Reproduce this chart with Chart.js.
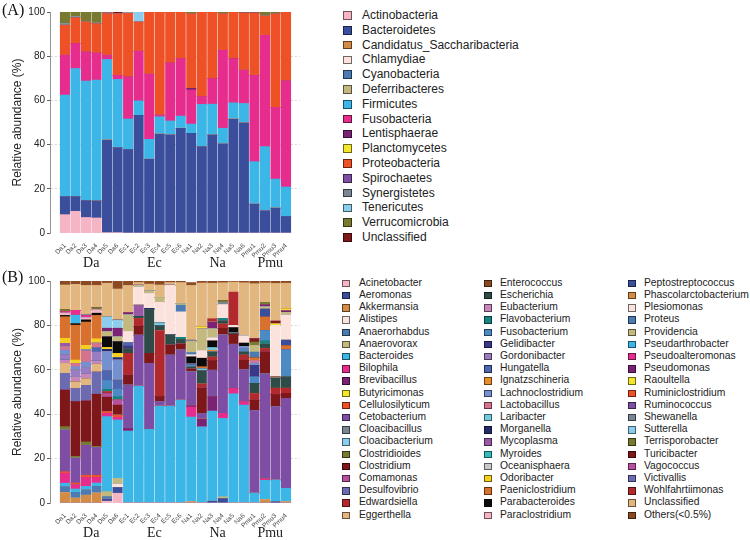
<!DOCTYPE html>
<html>
<head>
<meta charset="utf-8">
<script src="https://cdn.jsdelivr.net/npm/chart.js@4/dist/chart.umd.min.js"></script>
<style>
  html, body { margin: 0; padding: 0; background: #fff; }
  #wrap { position: relative; width: 750px; height: 540px; overflow: hidden; font-family: "Liberation Sans", Arial, sans-serif; }
  canvas { position: absolute; left: 0; }
  .panel { position: absolute; font-family: "Liberation Serif", "Times New Roman", serif; font-size: 16px; color: #111; }
  .leg { position: absolute; white-space: nowrap; color: #222; }
  .leg .sw { position: absolute; box-sizing: border-box; border: 1px solid rgba(0,0,0,0.55); }
  .leg .tx { position: absolute; }
</style>
</head>
<body>
<div id="wrap">
  <canvas id="cA" width="300" height="270" style="top:0"></canvas>
  <canvas id="cB" width="300" height="270" style="top:270px"></canvas>
  <div class="panel" style="left:2px; top:1px;">(A)</div>
  <div class="panel" style="left:2px; top:268px;">(B)</div>
  <div id="legA"></div>
  <div id="legB"></div>
</div>
<script>
// ---------- categories ----------
const samples = ['Da1','Da2','Da3','Da4','Da5','Da6','Ec1','Ec2','Ec3','Ec4','Ec5','Ec6',
                 'Na1','Na2','Na3','Na4','Na5','Na6','Pmu1','Pmu2','Pmu3','Pmu4'];
const groups = ['Da','Ec','Na','Pmu'];
const yTickValues = [0, 20, 40, 60, 80, 100];

// 39-colour palette, cycled over the legend entries
const palette = ['#F5B5C4','#3B4E9C','#D38C45','#FBE2DD','#4B7BB0','#C3B97F','#3BB6E6','#E62D8E',
  '#7A2273','#F2E62B','#EE5125','#7D4EA3','#7B8695','#8CCDEE','#777A30','#7D1719','#B6519D',
  '#6C6AB0','#B1282D','#E2B67F','#8C4A23','#2E4B48','#C886BC','#16837C','#4C8AC6','#3B3887',
  '#9A7CC0','#4E66AE','#E98C2D','#7590CE','#D5728E','#73CADB','#242A6A','#9858A6','#35B9B9',
  '#C9C9C9','#F5CF1E','#D8712D','#0B0B0B'];

// ---------- Panel A: phyla (%), order Da1..Da6, Ec1..Ec6, Na1..Na6, Pmu1..Pmu4 ----------
const Actinobacteria   = [8.3,9.8,7,6.8,0.2,0.2, 0,0,0,0,0,0, 0,0,0,0,0,0, 0,0,0,0];
const Bacteroidetes    = [8.2,6.7,7.7,7.8,41.9,38.4, 37.8,53.2,33.4,44.8,44.4,47.4, 45.1,39.1,44.4,40.3,51.6,49.9, 13.1,10.1,11.3,7.5];
const Candidatus_Saccharibacteria = [0,0,0,0,0,0, 0,0,0,0,0,0, 0,0,0,0,0,0, 0,0,0,0];
const Chlamydiae       = [0,0,0,0,0,0, 0,0,0,0,0,0, 0,0,0,0,0,0, 0,0,0,0];
const Cyanobacteria    = [0,0,0,0,0,0, 0,0,0,0,0,0, 0,0,0,0,0,0, 0,0,0,0];
const Deferribacteres  = [0,0,0,0,0,0, 0,0,0,0,0,0, 0,0,0,0,0,0, 0,0,0,0];
const Firmicutes       = [45.9,57.9,54,54.6,36.4,30.9, 13.8,6.6,9,7.8,6.3,5.5, 4.2,19.1,13.9,7.1,7.3,8.7, 19.2,29,13.1,13.3];
const Fusobacteria     = [18.1,11.3,13.3,12.3,2,1.9, 19.1,22.5,29.5,0.8,26.3,26, 15.4,3.5,11.6,35.3,20,15.1, 39.1,50.4,32.4,48.1];
const Lentisphaerae    = [0,0,0,0,0,0, 0,0,0,0,0,0, 0.8,0,0,0,0,0, 0,0,0,0];
const Planctomycetes   = [0,0,0,0,0,0, 0,0,0,0,0,0, 0,0,0,0,0,0, 0,0,0,0];
const Proteobacteria   = [13.5,11.7,13.5,13.2,18.7,27.8, 28.8,13.2,28.1,46.6,23,21.1, 33.7,38.3,30.1,16.5,21.1,25.8, 28.1,8.7,42.4,31.1];
const Spirochaetes     = [0,0,0,0,0,0, 0,0,0,0,0,0, 0,0,0,0,0,0, 0,0,0,0];
const Synergistetes    = [0.7,0.5,0,0.3,0,0, 0,0,0,0,0,0, 0,0,0,0,0,0, 0,0,0,0];
const Tenericutes      = [0,0,0,0,0,0, 0.5,4.5,0,0,0,0, 0,0,0,0,0,0, 0,0,0,0];
const Verrucomicrobia  = [5.3,2.1,4.5,5,0,0, 0,0,0,0,0,0, 0.8,0,0,0.8,0,0, 0,1.8,0.8,0];
const UnclassifiedPhy  = [0,0,0,0,0.5,0.8, 0,0,0,0,0,0, 0,0,0,0,0,0.5, 0.5,0,0,0];

const phylumNames = ['Actinobacteria','Bacteroidetes','Candidatus_Saccharibacteria','Chlamydiae',
  'Cyanobacteria','Deferribacteres','Firmicutes','Fusobacteria','Lentisphaerae','Planctomycetes',
  'Proteobacteria','Spirochaetes','Synergistetes','Tenericutes','Verrucomicrobia','Unclassified'];
const phylumValues = [Actinobacteria,Bacteroidetes,Candidatus_Saccharibacteria,Chlamydiae,Cyanobacteria,
  Deferribacteres,Firmicutes,Fusobacteria,Lentisphaerae,Planctomycetes,Proteobacteria,Spirochaetes,
  Synergistetes,Tenericutes,Verrucomicrobia,UnclassifiedPhy];

// ---------- Panel B: genera (%) ----------
const Acinetobacter      = [0,0,0,0,0.8,4.4, 0,0,0,0,0,0, 0,0,0,0,0,0, 0,0,0,0];
const Aeromonas          = [0,0,0,0,1,2.6, 0,0,0,0,0,0, 0,0,0.8,2,0,0, 0,0,0.6,0];
const Akkermansia        = [4.7,2.2,3.5,4.5,0,0, 0,0,0,0,0,0, 0.6,0,0,0,0,0, 0,1.5,0,0.6];
const Alistipes          = [0,0,0,0,0,1.5, 0,0,0,0,0,0, 0,0,0,0,0,0, 0,0,0,0];
const Anaerorhabdus      = [2.7,2.6,2.5,3,1.1,0, 0,0,0,0,0,0, 0,0,0,0,0,0, 0,0,0,0];
const Anaerovorax        = [0,0,0,0,2.2,2.6, 0,0,0,0,0,0, 0,0,0,0.8,0,0, 0,0,0,0];
const Bacteroides        = [1.5,1.5,1.5,1.5,33.8,26.3, 32.4,52.7,33.2,43.7,43.7,46.4, 38.1,34.3,40.6,35.3,49.2,44.1, 4.5,8.7,9.8,6];
const Bilophila          = [4.5,1.9,4,2.5,1.5,1.2, 0,0,0,0,0,0, 4.5,0,0,2.3,2.3,1.5, 0,0.6,0,0];
const Brevibacillus      = [0,0,0,0,0,0, 1.2,0,0,0,0,0, 0.7,3.5,6.6,0,0,0, 0,0,0,0];
const Butyricimonas      = [0,0,0,0,0,0, 0,0,0,0,0,0, 0,0,0,0,0,0, 0,0,0,0];
const Cellulosilyticum   = [0.7,0.8,1,1,0.8,1, 0,0,0,0,0,0, 0,0,0,0,0,0, 0,0,0,0];
const Cetobacterium      = [18.8,11.2,13.5,12.5,0,0, 19.5,22.9,29.7,2,22.9,22.5, 15.2,2.5,11.8,35.3,20,14.5, 37.1,47.3,33,40.5];
const Cloacibacillus     = [0,0,0,0,0,0, 0,0,0,0,0,0, 0,0,0,0,0,0, 0,0,0,0];
const Cloacibacterium    = [0,0,0,0,0,0, 0,0,0,0,0,0, 0,0,0,0,0,0, 0,0,0,0];
const Clostridioides     = [1.5,0.8,1.5,0.5,0,0, 0,0,0,0,0,0, 0,0,0,0,0,0, 0,0,0,0];
const Clostridium        = [16.5,24.7,18.5,23.5,6.5,4.5, 4.5,4,4.5,2.3,4.5,2.7, 1.2,11.5,4.4,3,4.5,4.2, 4.7,10,5.5,2.3];
const Comamonas          = [0,0,0,0,1.5,2.3, 0,0,0,0,0,0, 0,0,0,0,0,0, 0,0,0,0];
const Desulfovibrio      = [7.5,5.9,7,10,0,0, 0,0,0,0,0,0, 0,0,0,0,0,0, 0,0,0,0];
const Edwardsiella       = [0,0,0,0,1,0, 9.8,3.5,0,29.6,0,0, 0,1.8,1.5,1.9,0,2.3, 3,1.5,2.8,2.3];
const Eggerthella        = [4.5,3,3,3.5,0,0, 0,0,0,0,0,0, 0,0,0,0,0,0, 0,0,0,0];
const Enterococcus       = [0,0,0,0,0,0, 0,0,0,0,0,0, 0,0,0,0,0,0, 0,0,0,0];
const Escherichia        = [0,0,0,0,0,0, 2.2,1,19.8,2.3,4.7,2.1, 1,6,2.3,1.5,0.5,1.5, 4.6,2,4.5,5.2];
const Eubacterium        = [1.5,2.3,2,1.5,0,0, 0,0,0,0,0,0, 0,0,0,0,0,0, 0,0,0,0];
const Flavobacterium     = [0,0,0,0,1,1.5, 0,0,0,0,0,0.9, 0,0,0,1,0,0, 0,1.5,0,0];
const Fusobacterium      = [0,0,0,0,4,3.5, 0,0,0,0,0,0, 0.8,0,0,0,0,1.2, 3,4.6,0,12];
const Gelidibacter       = [0,0,0,0,0,0, 1.2,0,0,0,0,0, 0,0,0,0,0,0, 5.1,0,0,0];
const Gordonibacter      = [2.3,3,3,4,0,0, 0,0,0,0,0,0, 0,0,0,0,0,0, 0,0,0,0];
const Hungatella         = [0,0,0,2,4.5,4, 1.5,0,0,0,0,0, 0,0,0,0,0,0, 0,0,0,0];
const Ignatzschineria    = [0,0,0,0,0,0, 0,0,0,0,0,0, 0,0,0.8,0,0,0, 0,0,0,0];
const Lachnoclostridium  = [2.2,1.5,2.5,0,8.5,9, 0,0,0,0,0,0, 0,0,0,0,0,1.2, 1,0,0,0];
const Lactobacillus      = [1.5,1.5,5,2,0,0, 0,0,0,0,0,0, 0,0,0,0,0,0, 1.2,0,0,0];
const Laribacter         = [0,0,0,0,0,0, 0,0,0,1.2,0,0, 0,0.8,1.2,0,0,0, 0,0,0,0];
const Morganella         = [0,0,0,0,1,1, 0,0,0.5,0,0,0, 0.5,0,0,0,0,0, 0,0,0,0];
const Mycoplasma         = [1.5,0,0.5,0,0,0, 0,5,0,0,0,0, 0,0,0,0,0,0, 0,0,0,0];
const Myroides           = [0,0,0,0,0,0, 0,0,0,0,0,0, 0,0,0,0,0,0, 0,0,0,0];
const Oceanisphaera      = [0,0,0,0,0,0, 0,0,0,0,0,0, 0,0,0,0,0,0, 0,0,0,0];
const Odoribacter        = [2.3,1.5,2,2,0.9,2, 0,0,0,0,0,0, 0,0,0,0,0,0, 0,0,0,0];
const Paeniclostridium   = [9.7,15.7,10.5,10.5,0,0, 0,0,0,0,0,0, 0,1,0,0,0,0, 1.2,6.1,0.6,2];
const Parabacteroides    = [0.6,0.7,1,1,4.8,5.3, 0,0,0,0,0,0, 3.2,3.8,3,0,2.5,1.5, 0,0,0,0];
const Paraclostridium    = [1,0,1,1.5,0,0, 0,0,0,0,0,0, 0,0,0,0,0,0, 0,0,0,0];
const Peptostreptococcus = [0,0,0,0,0,0, 0,0,0,0,0,0, 0,0,0,0,0,0, 0,3.6,0,2.5];
const Phascolarctobacterium = [0,0,0,0,0,0, 0,0,0,0,0,0, 0,0,0,0,0,0, 0,0,0,0];
const Plesiomonas        = [0,0,0,0,0,0, 5,8.2,6.7,9.3,22.3,11.5, 1,3.5,1.5,6.3,1,3.3, 0,0,23.2,11.3];
const Proteus            = [0,0,0,0,0,0, 0,0,0,0,0,3, 1,0,0,0,0,0, 2.6,0,0,0];
const Providencia        = [0,0,0,0,2.3,2.2, 7.5,0.8,1.2,2.2,0,0.7, 5,9.7,4,0,0,0, 3,1,0,1.2];
const Pseudarthrobacter  = [0,3.8,0,0,0,0, 0,0,0,0,0,0, 0,0,0,0,0,0, 0,0,0,0];
const Pseudoalteromonas  = [0.7,2.2,1,0,0,0, 0,0,0,0,0,0, 0,0,0,0,0,0, 0,0,0,0];
const Pseudomonas        = [0,0,0,0,1.5,3.8, 1,0,0,0,0,0, 0,0,3,0,0,0, 0,1,0,0.8];
const Raoultella         = [0,0,0,0,0,0, 0,0,0,0,0,0, 0,1,0,0,0,0, 0,0,0.7,0.8];
const Ruminiclostridium  = [0,0,0,0,0,0, 0,0,0,0,0,0, 0,0,0,0,0,0, 0,0,0,0];
const Ruminococcus       = [0,0,0,0,0,0, 0,0,0,0,0,0, 0,0,0,0,0,0, 0,0,0,0];
const Shewanella         = [0,0,0.5,0,0,0, 0,0,0,0,0,0, 0.5,0,0,1,0,0, 0,0,0,0];
const Sutterella         = [0,0,0,0,5.2,3.7, 0,0,0,0,0,0, 0,0,0,0,0,0, 0,0,0,0];
const Terrisporobacter   = [1,0,0,1,0,0, 0,0,0,0,0,0, 0,0,0,0.8,0,0, 1.5,1,0,0];
const Turicibacter       = [0,0,0,0,0,0, 0,0,0,0,0,0, 0,0,0,0,0,0, 1.5,0,1.2,0];
const Vagococcus         = [0,0,0,0,0,0, 0,0,0,0,0,0, 0,0,0,0,0,0, 0,0,0,0];
const Victivallis        = [0,0,0,0,0,0, 0,0,0,0,0,0, 0,0,0,0,0,0, 0,0,0,0];
const Wohlfahrtiimonas   = [0,0,0,0,0,0, 0,0,0,0,0,0, 0,0,1.5,0,15,0, 0,0,0,0];
const UnclassifiedGen    = [11,11.7,13,10,15.1,14, 12.2,1.2,3,5.6,1.2,9.5, 24.7,19.7,16,8,4.5,23.9, 24.8,8.7,17,11.5];
const OthersLow          = [1.8,1.5,2,2,1,3.6, 2,0.7,1.4,1.8,0.7,0.7, 1.3,0.9,1,0.8,0.5,0.8, 1.2,0.9,1.1,1];

const genusNames = ['Acinetobacter','Aeromonas','Akkermansia','Alistipes','Anaerorhabdus','Anaerovorax',
  'Bacteroides','Bilophila','Brevibacillus','Butyricimonas','Cellulosilyticum','Cetobacterium',
  'Cloacibacillus','Cloacibacterium','Clostridioides','Clostridium','Comamonas','Desulfovibrio',
  'Edwardsiella','Eggerthella','Enterococcus','Escherichia','Eubacterium','Flavobacterium',
  'Fusobacterium','Gelidibacter','Gordonibacter','Hungatella','Ignatzschineria','Lachnoclostridium',
  'Lactobacillus','Laribacter','Morganella','Mycoplasma','Myroides','Oceanisphaera','Odoribacter',
  'Paeniclostridium','Parabacteroides','Paraclostridium','Peptostreptococcus','Phascolarctobacterium',
  'Plesiomonas','Proteus','Providencia','Pseudarthrobacter','Pseudoalteromonas','Pseudomonas',
  'Raoultella','Ruminiclostridium','Ruminococcus','Shewanella','Sutterella','Terrisporobacter',
  'Turicibacter','Vagococcus','Victivallis','Wohlfahrtiimonas','Unclassified','Others(<0.5%)'];
const genusValues = [Acinetobacter,Aeromonas,Akkermansia,Alistipes,Anaerorhabdus,Anaerovorax,
  Bacteroides,Bilophila,Brevibacillus,Butyricimonas,Cellulosilyticum,Cetobacterium,
  Cloacibacillus,Cloacibacterium,Clostridioides,Clostridium,Comamonas,Desulfovibrio,
  Edwardsiella,Eggerthella,Enterococcus,Escherichia,Eubacterium,Flavobacterium,
  Fusobacterium,Gelidibacter,Gordonibacter,Hungatella,Ignatzschineria,Lachnoclostridium,
  Lactobacillus,Laribacter,Morganella,Mycoplasma,Myroides,Oceanisphaera,Odoribacter,
  Paeniclostridium,Parabacteroides,Paraclostridium,Peptostreptococcus,Phascolarctobacterium,
  Plesiomonas,Proteus,Providencia,Pseudarthrobacter,Pseudoalteromonas,Pseudomonas,
  Raoultella,Ruminiclostridium,Ruminococcus,Shewanella,Sutterella,Terrisporobacter,
  Turicibacter,Vagococcus,Victivallis,Wohlfahrtiimonas,UnclassifiedGen,OthersLow];

// ---------- helpers ----------
const colorOf = i => palette[i % palette.length];
const groupCenter = g => {
  const idx = samples.map((s, i) => [s.replace(/\d+$/, ''), i]).filter(p => p[0] === g).map(p => p[1]);
  return (idx[0] + idx[idx.length - 1]) / 2;
};

const groupLabelPlugin = {
  id: 'groupLabels',
  afterDraw(chart) {
    const {ctx, scales: {x}} = chart;
    ctx.save();
    ctx.font = '14px "Liberation Serif", "Times New Roman", serif';
    ctx.fillStyle = '#222';
    ctx.textAlign = 'center';
    ctx.textBaseline = 'middle';
    groups.forEach(g => ctx.fillText(g, x.getPixelForValue(groupCenter(g)), chart.height - 7));
    ctx.restore();
  }
};

function makeChart(canvasId, names, values, topPad) {
  const datasets = names.map((n, i) => ({
    label: n,
    data: values[i],
    backgroundColor: colorOf(i),
    borderWidth: 0,
    barThickness: 9.4
  }));
  return new Chart(document.getElementById(canvasId), {
    type: 'bar',
    data: { labels: samples.map((s, i) => i), datasets },
    plugins: [groupLabelPlugin],
    options: {
      responsive: false,
      animation: false,
      layout: { padding: { top: topPad, right: 0, bottom: 0, left: 0 } },
      plugins: { legend: { display: false }, tooltip: { enabled: false } },
      scales: {
        x: {
          type: 'linear',
          stacked: true,
          min: -0.879,
          max: 21.787,
          afterBuildTicks: s => { s.ticks = samples.map((_, i) => ({ value: i })); },
          afterFit: s => { s.height = 270 - 233 - 0; },
          grid: { display: false },
          border: { display: false },
          ticks: {
            autoSkip: false, minRotation: 45, maxRotation: 45, padding: 1,
            font: { family: '"Liberation Sans", Arial, sans-serif', size: 6.5 },
            color: '#444',
            callback: v => samples[v]
          }
        },
        y: {
          stacked: true,
          min: 0, max: 100,
          z: 1,
          afterFit: s => { s.width = 50; },
          afterBuildTicks: s => { s.ticks = yTickValues.map(v => ({ value: v })); },
          border: { display: true, color: '#777', width: 0.8, dash: [2, 2] },
          grid: {
            color: c => (c.tick && (c.tick.value === 0 || c.tick.value === 100)) ? 'rgba(0,0,0,0)' : 'rgba(90,90,90,0.35)',
            lineWidth: 0.7,
            tickColor: '#333',
            tickLength: 3,
            tickBorderDash: [],
            tickWidth: 0.8
          },
          ticks: {
            padding: 2,
            font: { family: '"Liberation Sans", Arial, sans-serif', size: 10 },
            color: '#222'
          },
          title: {
            display: true,
            text: 'Relative abundance (%)',
            padding: { top: 10, bottom: 0 },
            font: { family: '"Liberation Sans", Arial, sans-serif', size: 12 },
            color: '#222'
          }
        }
      }
    }
  });
}

makeChart('cA', phylumNames, phylumValues, 12);
makeChart('cB', genusNames, genusValues, 11);

// ---------- HTML legends ----------
function buildLegend(containerId, names, cfg) {
  const box = document.getElementById(containerId);
  names.forEach((n, i) => {
    const col = Math.floor(i / cfg.perCol);
    const row = i % cfg.perCol;
    const cy = cfg.y0 + row * cfg.dy;
    const item = document.createElement('div');
    item.className = 'leg';
    item.style.left = '0px'; item.style.top = '0px';
    const sw = document.createElement('div');
    sw.className = 'sw';
    sw.style.left = cfg.swX[col] + 'px';
    sw.style.top = (cy - cfg.sw / 2) + 'px';
    sw.style.width = cfg.sw + 'px';
    sw.style.height = cfg.sw + 'px';
    sw.style.background = colorOf(i);
    const tx = document.createElement('div');
    tx.className = 'tx';
    tx.textContent = n;
    tx.style.left = cfg.txX[col] + 'px';
    tx.style.fontSize = cfg.font + 'px';
    tx.style.lineHeight = cfg.font + 'px';
    tx.style.top = (cy - cfg.font / 2 - 0.5) + 'px';
    item.appendChild(sw); item.appendChild(tx);
    box.appendChild(item);
  });
}
buildLegend('legA', phylumNames, { perCol: 16, y0: 15.5, dy: 14.8, swX: [343], txX: [362], sw: 8.5, font: 12 });
buildLegend('legB', genusNames, { perCol: 20, y0: 283.5, dy: 12.2, swX: [342, 484, 628], txX: [359, 500, 644], sw: 7.5, font: 10.3 });
</script>
</body>
</html>
